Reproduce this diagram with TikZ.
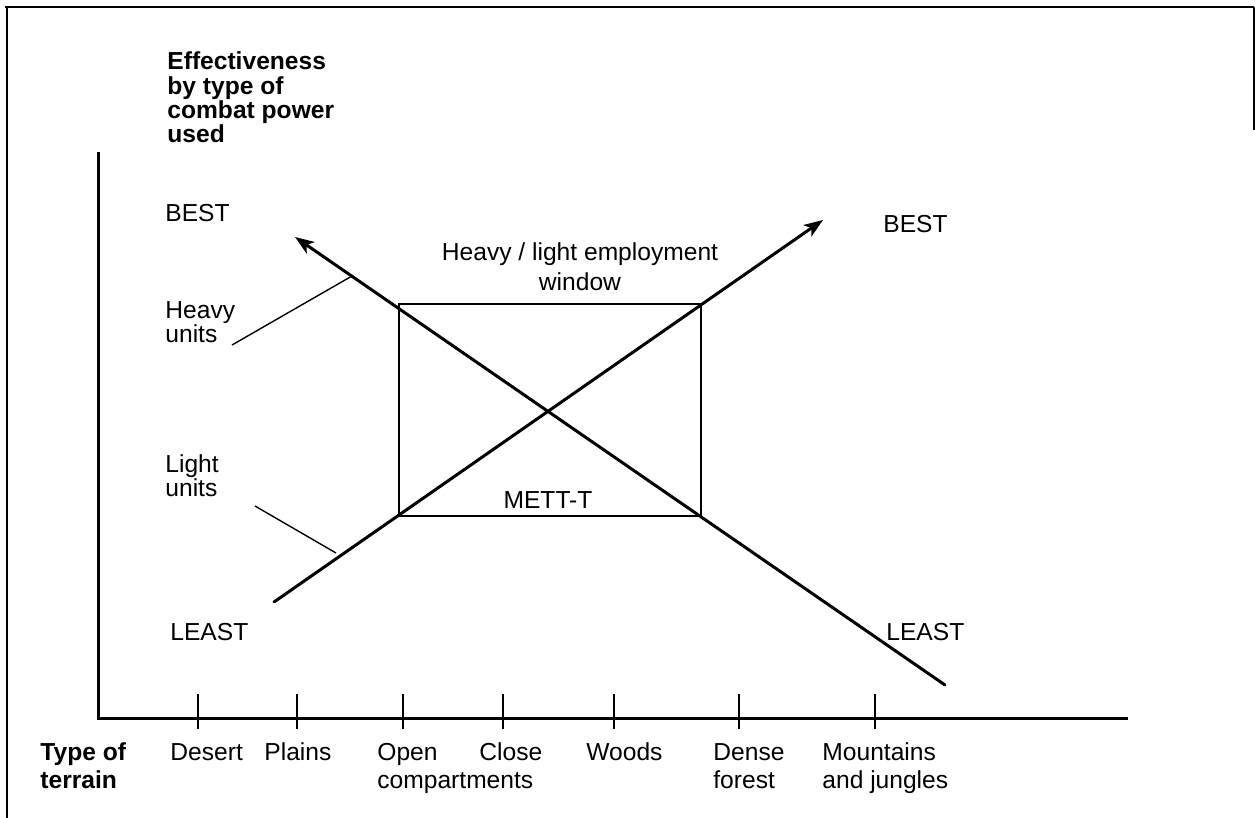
\documentclass[tikz,border=0pt]{standalone}
\usepackage{fontspec}
\setmainfont{Liberation Sans}
\usetikzlibrary{arrows.meta}
\begin{document}
\begin{tikzpicture}[x=0.5pt,y=-0.5pt,
  % multi-line labels are placed by the baseline of their last line
  txt/.style={inner sep=0pt, anchor=base west, align=left,
    font=\fontsize{12.3}{13.5}\selectfont},
  unittxt/.style={txt, font=\fontsize{12.3}{11}\selectfont},
  boldtxt/.style={txt, font=\fontsize{12.3}{12.2}\selectfont\bfseries},
  axisbold/.style={txt, font=\fontsize{12.3}{13.5}\selectfont\bfseries},
  ctrtxt/.style={inner sep=0pt, align=center,
    font=\fontsize{12.3}{15}\selectfont},
  frameline/.style={line width=1.4pt},
  axis/.style={line width=1.5pt},
  tickmark/.style={line width=0.7pt},
  trend/.style={line width=1.5pt, line cap=round},
  tip/.style={-{Stealth[length=9.5pt,width=7pt,inset=2.5pt]}},
  leader/.style={line width=0.7pt},
  windowbox/.style={draw, line width=1pt, inner sep=0pt,
    minimum width=151pt, minimum height=106pt}]
\useasboundingbox (0,0) rectangle (1255,818);

% outer frame (open at the bottom and lower right)
\draw[frameline] (5,7) -- (1254,7);
\draw[frameline] (7,7) -- (7,818);
\draw[frameline] (1254,7) -- (1254,130);

% axes
\coordinate (ytop) at (98,152);
\coordinate (origin) at (98,718);
\coordinate (xend) at (1128,718);
\draw[axis] (ytop) -- (origin) -- (xend);

% terrain ticks
\foreach \tx in {198,297,403,503,614,739,875}
  \draw[tickmark] (\tx,694) -- (\tx,729);

% axis titles
\node[boldtxt] (ytitle) at (167,143)
  {Effectiveness\\by type of\\combat power\\used};
\node[axisbold] (xtitle) at (40,788) {Type of\\terrain};

% terrain labels
\node[txt] (desert) at (170,761) {Desert};
\node[txt] (plains) at (264,761) {Plains};
\node[txt] (open) at (377,788) {Open\\compartments};
\node[txt] (close) at (479,761) {Close};
\node[txt] (woods) at (586,761) {Woods};
\node[txt] (dense) at (713,788) {Dense\\forest};
\node[txt] (mount) at (822,788) {Mountains\\and jungles};

% effectiveness labels
\node[txt] (bestL) at (165,222) {BEST};
\node[txt] (leastL) at (170,640) {LEAST};
\node[txt] (bestR) at (883,233) {BEST};
\node[txt] (leastR) at (886,640) {LEAST};
\node[unittxt] (heavy) at (165,343) {Heavy\\units};
\node[unittxt] (light) at (165,497) {Light\\units};

% employment window
\node[windowbox] (win) at (550,410) {};
\node[ctrtxt] (wintitle) at (580,267) {Heavy / light employment\\window};
\node[ctrtxt] (mett) at (548,500) {METT-T};

% trend lines
\coordinate (hTail) at (945,685);
\coordinate (hTip) at (295,237);
\coordinate (lTail) at (274,602);
\coordinate (lTip) at (823,220);
\draw[trend, tip] (hTail) -- (hTip);
\draw[trend, tip] (lTail) -- (lTip);

% leader lines from the unit labels
\coordinate (hLead) at (352,276);
\coordinate (hFoot) at (232,345);
\coordinate (lLead) at (336,553);
\coordinate (lFoot) at (255,506);
\draw[leader] (hFoot) -- (hLead);
\draw[leader] (lFoot) -- (lLead);
\end{tikzpicture}
\end{document}
